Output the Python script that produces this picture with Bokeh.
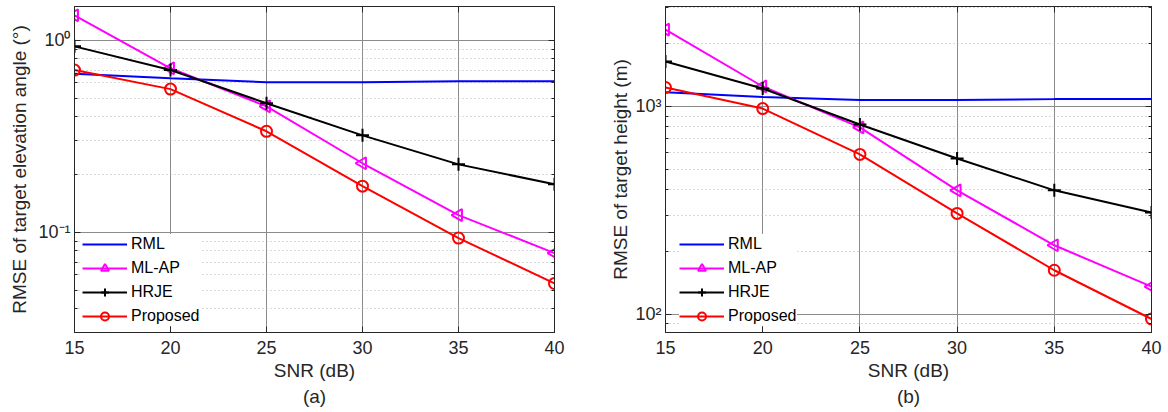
from bokeh.plotting import figure
from bokeh.models import Range1d, FixedTicker, LogAxis, LinearAxis, Title, Legend, CustomJSTickFormatter
from bokeh.layouts import row
from bokeh.embed import file_html
from bokeh.resources import INLINE

snr = [15, 20, 25, 30, 35, 40]

# (a) RMSE of elevation angle (deg)
rml_a = [0.67, 0.635, 0.605, 0.605, 0.612, 0.612]
mlap_a = [1.35, 0.715, 0.453, 0.229, 0.123, 0.078]
hrje_a = [0.93, 0.70, 0.47, 0.32, 0.226, 0.178]
prop_a = [0.70, 0.557, 0.336, 0.174, 0.0934, 0.0542]

# (b) RMSE of target height (m)
rml_h = [1170, 1110, 1075, 1075, 1085, 1085]
mlap_h = [2345, 1248, 793, 395, 215, 136]
hrje_h = [1645, 1221, 819, 562, 395, 309]
prop_h = [1234, 977, 588, 306, 163, 95]

labels = ["RML", "ML-AP", "HRJE", "Proposed"]
colors = ["#0000FF", "#FF00FF", "#000000", "#FF0000"]

ticks_a = [0.1, 1.0]
minor_a = [0.03, 0.04, 0.05, 0.06, 0.07, 0.08, 0.09,
           0.2, 0.3, 0.4, 0.5, 0.6, 0.7, 0.8, 0.9]
ticklabels_a = {0.1: "10\u207b\u00b9", 1.0: "10\u2070"}

ticks_h = [100, 1000]
minor_h = [90, 200, 300, 400, 500, 600, 700, 800, 900, 2000, 3000]
ticklabels_h = {100: "10\u00b2", 1000: "10\u00b3"}

FONT = "Liberation Sans"
TXT = "#262626"


def make(ylab, sub, yr, ticks, minor, tlabels, series, width, bl, br,
         legend_x, ylab_standoff, ytick_standoff):
    p = figure(width=width, height=412, x_range=Range1d(15, 40), y_range=Range1d(*yr),
               y_axis_type="log", output_backend="svg", toolbar_location=None,
               min_border_left=bl, min_border_right=br, min_border_top=6,
               min_border_bottom=80)
    p.outline_line_color = TXT
    p.outline_line_width = 1
    yt = FixedTicker(ticks=ticks, minor_ticks=minor)
    xt = FixedTicker(ticks=snr, minor_ticks=[])
    p.xaxis.ticker = xt
    p.yaxis.ticker = yt
    p.yaxis.major_label_overrides = tlabels
    for ax in (p.xaxis[0], p.yaxis[0]):
        ax.major_label_text_font = FONT
        ax.major_label_text_font_size = "18px"
        ax.major_label_text_color = TXT
        ax.axis_label_text_font = FONT
        ax.axis_label_text_font_size = "19px"
        ax.axis_label_text_font_style = "normal"
        ax.axis_label_text_color = TXT
        ax.axis_line_color = TXT
        ax.major_tick_line_color = TXT
        ax.minor_tick_line_color = TXT
        ax.major_tick_in = 6
        ax.major_tick_out = 0
        ax.minor_tick_in = 3
        ax.minor_tick_out = 0
    p.xaxis.minor_tick_line_color = None
    p.xaxis.axis_label = "SNR (dB)"
    p.xaxis.major_label_standoff = 8
    p.xaxis.axis_label_standoff = 3
    p.yaxis.axis_label = ylab
    p.yaxis.major_label_standoff = ytick_standoff
    p.yaxis.axis_label_standoff = ylab_standoff

    blank = CustomJSTickFormatter(code="return ''")
    ra = LogAxis(ticker=yt, formatter=blank, major_label_standoff=0,
                 axis_line_color=TXT, major_tick_line_color=TXT, minor_tick_line_color=TXT,
                 major_tick_in=6, major_tick_out=0, minor_tick_in=3, minor_tick_out=0)
    p.add_layout(ra, "right")
    ta = LinearAxis(ticker=xt, formatter=blank, major_label_standoff=0,
                    axis_line_color=TXT, major_tick_line_color=TXT, minor_tick_line_color=None,
                    major_tick_in=6, major_tick_out=0)
    p.add_layout(ta, "above")

    p.xgrid.ticker = xt
    p.ygrid.ticker = yt
    p.xgrid.grid_line_color = "#8c8c8c"
    p.ygrid.grid_line_color = "#8c8c8c"
    p.ygrid.minor_grid_line_color = "#b4b4b4"
    p.ygrid.minor_grid_line_dash = "1 3"

    items = []
    markers = [None, "triangle", "cross", "circle"]
    for (lab, col, mk, ys) in zip(labels, colors, markers, series):
        r = [p.line(snr, ys, line_color=col, line_width=2)]
        if mk == "triangle":
            r.append(p.scatter(snr, ys, marker="triangle", angle=1.5708, size=12,
                               line_color=col, fill_color=None, line_width=2))
        elif mk == "cross":
            r.append(p.scatter(snr, ys, marker="cross", size=13,
                               line_color=col, line_width=2))
        elif mk == "circle":
            r.append(p.scatter(snr, ys, marker="circle", size=11,
                               line_color=col, fill_color=None, line_width=2))
        items.append((lab, r))
    leg = Legend(items=items, location=(legend_x, 6), border_line_color=None,
                 background_fill_color="white", background_fill_alpha=1.0,
                 label_text_font=FONT, label_text_font_size="16px", label_text_color="#000000",
                 glyph_width=45, glyph_height=20, label_height=20, spacing=4,
                 padding=6, margin=0, label_standoff=4)
    p.add_layout(leg)

    t = Title(text=sub, align="center", text_font=FONT, text_font_size="19px",
              text_font_style="normal", text_color=TXT, standoff=1)
    p.add_layout(t, "below")
    return p


p1 = make("RMSE of target elevation angle (\u00b0)", "(a)", (0.0301, 1.5),
          ticks_a, minor_a, ticklabels_a, [rml_a, mlap_a, hrje_a, prop_a],
          600, 74, 46, 8, 5, 4)
p2 = make("RMSE of target height (m)", "(b)", (81.8, 3027),
          ticks_h, minor_h, ticklabels_h, [rml_h, mlap_h, hrje_h, prop_h],
          568, 65, 17, 14, 1, 4)

lay = row(p1, p2)
open("out.html", "w").write(file_html(lay, INLINE))
